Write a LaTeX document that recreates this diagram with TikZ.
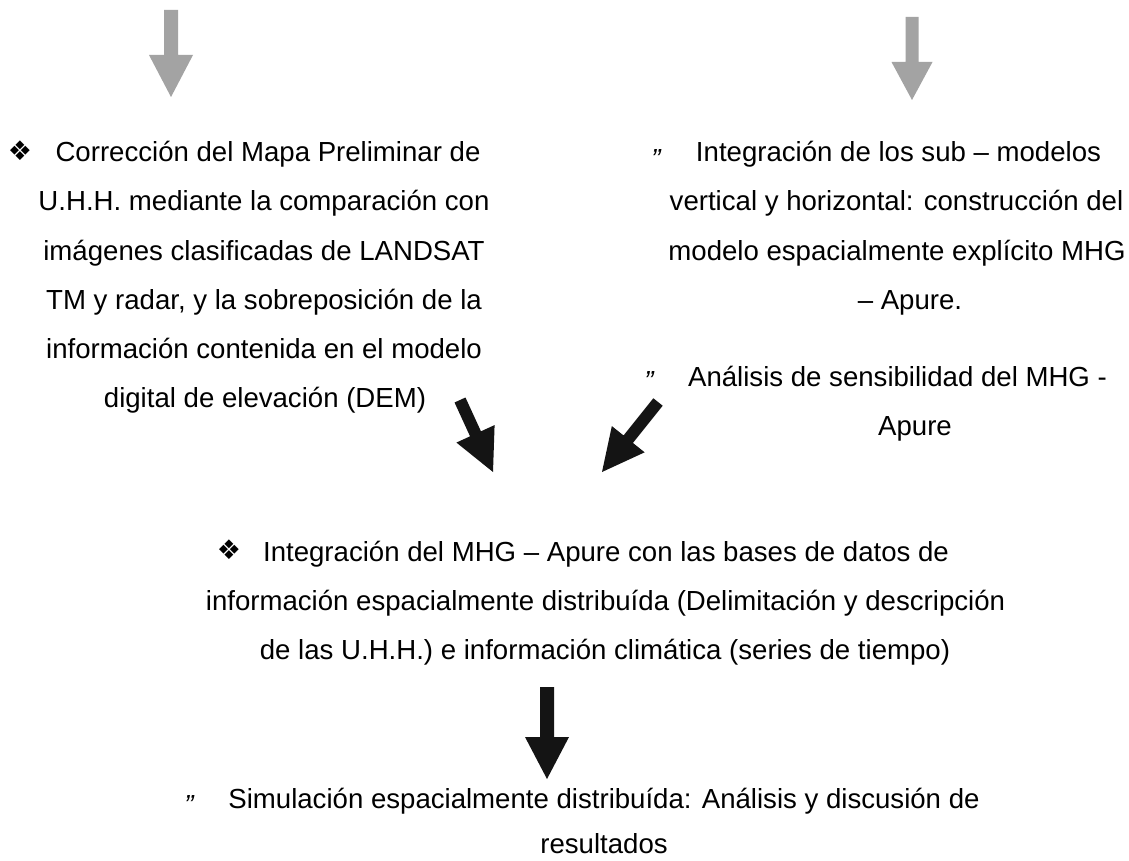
\documentclass[tikz,border=0pt]{standalone}
\usepackage{fontspec}
\setmainfont{Liberation Sans}
\newfontfamily\dejavu{DejaVu Sans}
\usetikzlibrary{calc}

\tikzset{
  txt/.style={anchor=base, inner sep=0pt, font=\fontsize{27.6}{33}\selectfont},
  bul/.style={anchor=center, inner sep=0pt, font=\dejavu\fontsize{27}{27}\selectfont},
  dq/.style={anchor=base, inner sep=0pt, font=\fontsize{27.6}{33}\selectfont\itshape},
  grayarrow/.style={fill=black!36},
  blackarrow/.style={fill=black!92},
}

% #1 style, #2 start, #3 tip, #4 half shaft width, #5 head length, #6 half head width
\newcommand\blkarrow[6]{%
  \path coordinate (ba) at ($(#3)!#5!(#2)$);
  \fill[#1] ($(#2)!#4!90:(#3)$) -- ($(ba)!#4!90:(#3)$) -- ($(ba)!#6!90:(#3)$)
    -- (#3) -- ($(ba)!#6!-90:(#3)$) -- ($(ba)!#4!-90:(#3)$) -- ($(#2)!#4!-90:(#3)$) -- cycle;
}

\begin{document}
\begin{tikzpicture}[x=1pt,y=-1pt]
\fill[white] (0,0) rectangle (1129,861);
\useasboundingbox (0,0) rectangle (1129,861);

% ---------- left column ----------
\node[bul] (Lb) at (20,151) {❖};
\node[txt] (L1) at (268,162) {Corrección del Mapa Preliminar de};
\node[txt] (L2) at (264,211) {U.H.H. mediante la comparación con};
\node[txt] (L3) at (264,260) {imágenes clasificadas de LANDSAT};
\node[txt] (L4) at (264,309) {TM y radar, y la sobreposición de la};
\node[txt] (L5) at (264,358) {información contenida en el modelo};
\node[txt] (L6) at (265,407) {digital de elevación (DEM)};

% ---------- right column ----------
\node[dq] (Rq1) at (656,168.5) {\char"22};
\node[txt] (R1) at (898.5,162) {Integración de los sub – modelos};
\node[txt] (R2) at (896.5,211) {vertical y horizontal: construcción del};
\node[txt] (R3) at (897,260) {modelo espacialmente explícito MHG};
\node[txt] (R4) at (910,309) {– Apure.};
\node[dq] (Rq2) at (649,390) {\char"22};
\node[txt] (R5) at (897.5,386) {Análisis de sensibilidad del MHG -};
\node[txt] (R6) at (915,435) {Apure};

% ---------- middle ----------
\node[bul] (Mb) at (229,550) {❖};
\node[txt] (M1) at (606,561) {Integración del MHG – Apure con las bases de datos de};
\node[txt] (M2) at (605.5,610) {información espacialmente distribuída (Delimitación y descripción};
\node[txt] (M3) at (605,659) {de las U.H.H.) e información climática (series de tiempo)};

% ---------- bottom ----------
\node[dq] (Bq) at (189,814) {\char"22};
\node[txt] (B1) at (604,808) {Simulación espacialmente distribuída: Análisis y discusión de};
\node[txt] (B2) at (604,853) {resultados};

% ---------- arrows ----------
\coordinate (g1s) at (171,10);  \coordinate (g1t) at (171,97);
\coordinate (g2s) at (912,17);  \coordinate (g2t) at (912,100);
\coordinate (d1s) at (460,400); \coordinate (d1t) at (493,472);
\coordinate (d2s) at (658,402); \coordinate (d2t) at (602,472);
\coordinate (b1s) at (547,687); \coordinate (b1t) at (547,779);

\blkarrow{grayarrow}{g1s}{g1t}{7pt}{42pt}{22pt}
\blkarrow{grayarrow}{g2s}{g2t}{6.5pt}{38pt}{20.5pt}
\blkarrow{blackarrow}{d1s}{d1t}{6pt}{42pt}{21pt}
\blkarrow{blackarrow}{d2s}{d2t}{6pt}{42pt}{21pt}
\blkarrow{blackarrow}{b1s}{b1t}{7pt}{42pt}{22pt}
\end{tikzpicture}
\end{document}
